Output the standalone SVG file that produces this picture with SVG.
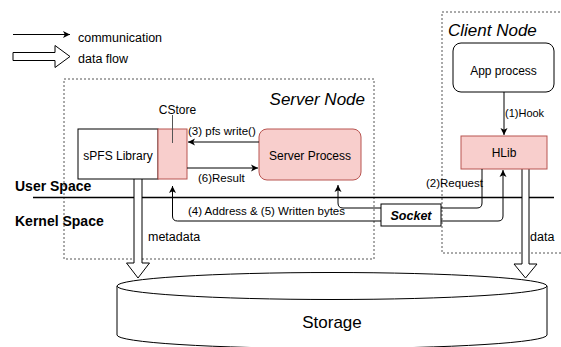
<svg xmlns="http://www.w3.org/2000/svg" width="561" height="347" viewBox="0 0 561 347">
  <style>
    text { font-family: "Liberation Sans", Arial, Helvetica, sans-serif; fill: #000; }
    .box { fill: #fff; stroke: #000; stroke-width: 1; }
    .pink { fill: #f8cecc; stroke: #b85450; stroke-width: 1; }
    .region { fill: none; stroke: #555; stroke-width: 1; stroke-dasharray: 2 2; }
    .conn { fill: none; stroke: #000; stroke-width: 1; }
    .flow { fill: #fff; stroke: #000; stroke-width: 1; }
    .lbl { font-size: 11.5px; }
    .node { font-size: 12px; text-anchor: middle; }
    .title { font-size: 17px; font-style: italic; }
    .space { font-size: 14px; font-weight: bold; }
  </style>
  <defs>
    <marker id="arrow" markerUnits="userSpaceOnUse" markerWidth="8" markerHeight="8" refX="7" refY="4" orient="auto">
      <path d="M0,0.5 L7,4 L0,7.5 L1.8,4 Z" fill="#000"/>
    </marker>
  </defs>

  <!-- legend -->
  <g id="legend">
    <line x1="13" y1="34.5" x2="70" y2="34.5" class="conn" marker-end="url(#arrow)"/>
    <text x="78" y="41.5" font-size="12.5">communication</text>
    <path d="M13,52.5 H55 V45.5 L70,56.5 L55,67.5 V60.5 H13 Z" class="flow"/>
    <text x="78" y="63" font-size="12.5">data flow</text>
  </g>

  <!-- host regions -->
  <g id="server-node">
    <rect x="64" y="79" width="310" height="180" class="region"/>
    <text x="365" y="105" class="title" text-anchor="end">Server Node</text>
  </g>
  <g id="client-node">
    <rect x="442" y="12" width="125" height="241" class="region"/>
    <text x="448" y="36" class="title">Client Node</text>
  </g>

  <!-- user / kernel boundary -->
  <g id="boundary">
    <line x1="33" y1="197.5" x2="554" y2="197.5" stroke="#000" stroke-width="1.3"/>
    <text x="15" y="191" class="space">User Space</text>
    <text x="15" y="226" class="space">Kernel Space</text>
  </g>

  <!-- data flows to storage -->
  <g id="flows">
    <path d="M134,179 V263 H126.5 L138,278 L149.5,263 H142 V179" class="flow"/>
    <text x="148" y="241" font-size="12.5">metadata</text>
    <path d="M522,169 V264 H514 L525.5,278 L537,264 H529 V169" class="flow"/>
    <text x="530" y="241" font-size="12.5">data</text>
  </g>

  <!-- storage -->
  <g id="storage">
    <path d="M117,286 V335 A215,13.5 0 0 0 547,335 V286" class="box"/>
    <ellipse cx="332" cy="286" rx="215" ry="13.5" class="box"/>
    <text x="332" y="328" font-size="17" text-anchor="middle">Storage</text>
  </g>

  <!-- nodes -->
  <g id="spfs-library">
    <rect x="78" y="129" width="80" height="50" class="box"/>
    <text x="118" y="160" class="node">sPFS Library</text>
  </g>
  <g id="cstore">
    <rect x="158" y="129" width="29" height="50" class="pink"/>
    <line x1="172.5" y1="115" x2="172.5" y2="143" stroke="#555" stroke-width="1"/>
    <text x="177.5" y="114" class="node">CStore</text>
  </g>
  <g id="server-process">
    <rect x="259" y="129" width="102" height="51" rx="8" class="pink"/>
    <text x="310" y="160" class="node">Server Process</text>
  </g>
  <g id="app-process">
    <rect x="453" y="43" width="101" height="49" rx="8" class="box"/>
    <text x="503.5" y="75" class="node">App process</text>
  </g>
  <g id="hlib">
    <rect x="461" y="136" width="86" height="33" class="pink"/>
    <text x="504" y="157" class="node">HLib</text>
  </g>
  <g id="socket">
    <rect x="381" y="204" width="60" height="22" class="box"/>
    <text x="411" y="220" font-size="12.5" font-weight="bold" font-style="italic" text-anchor="middle">Socket</text>
  </g>

  <!-- connectors -->
  <g id="connectors">
    <path d="M504,92 V135" class="conn" marker-end="url(#arrow)"/>
    <text x="505" y="117" font-size="11">(1)Hook</text>

    <path d="M259,142 H188" class="conn" marker-end="url(#arrow)"/>
    <text x="188" y="135" class="lbl">(3) pfs write()</text>

    <path d="M187,168 H258" class="conn" marker-end="url(#arrow)"/>
    <text x="198" y="182" class="lbl">(6)Result</text>

    <path d="M482,169 V203 Q482,208 477,208 H441" class="conn"/>
    <text x="426" y="187" class="lbl">(2)Request</text>

    <path d="M441,221 H498 Q503,221 503,216 V170" class="conn" marker-end="url(#arrow)"/>

    <path d="M381,208 H343 Q338,208 338,203 V185" class="conn" marker-end="url(#arrow)"/>

    <path d="M381,221 H177.5 Q172.5,221 172.5,216 V186" class="conn" marker-end="url(#arrow)"/>
    <text x="188" y="215" class="lbl">(4) Address &amp; (5) Written bytes</text>
  </g>
</svg>
